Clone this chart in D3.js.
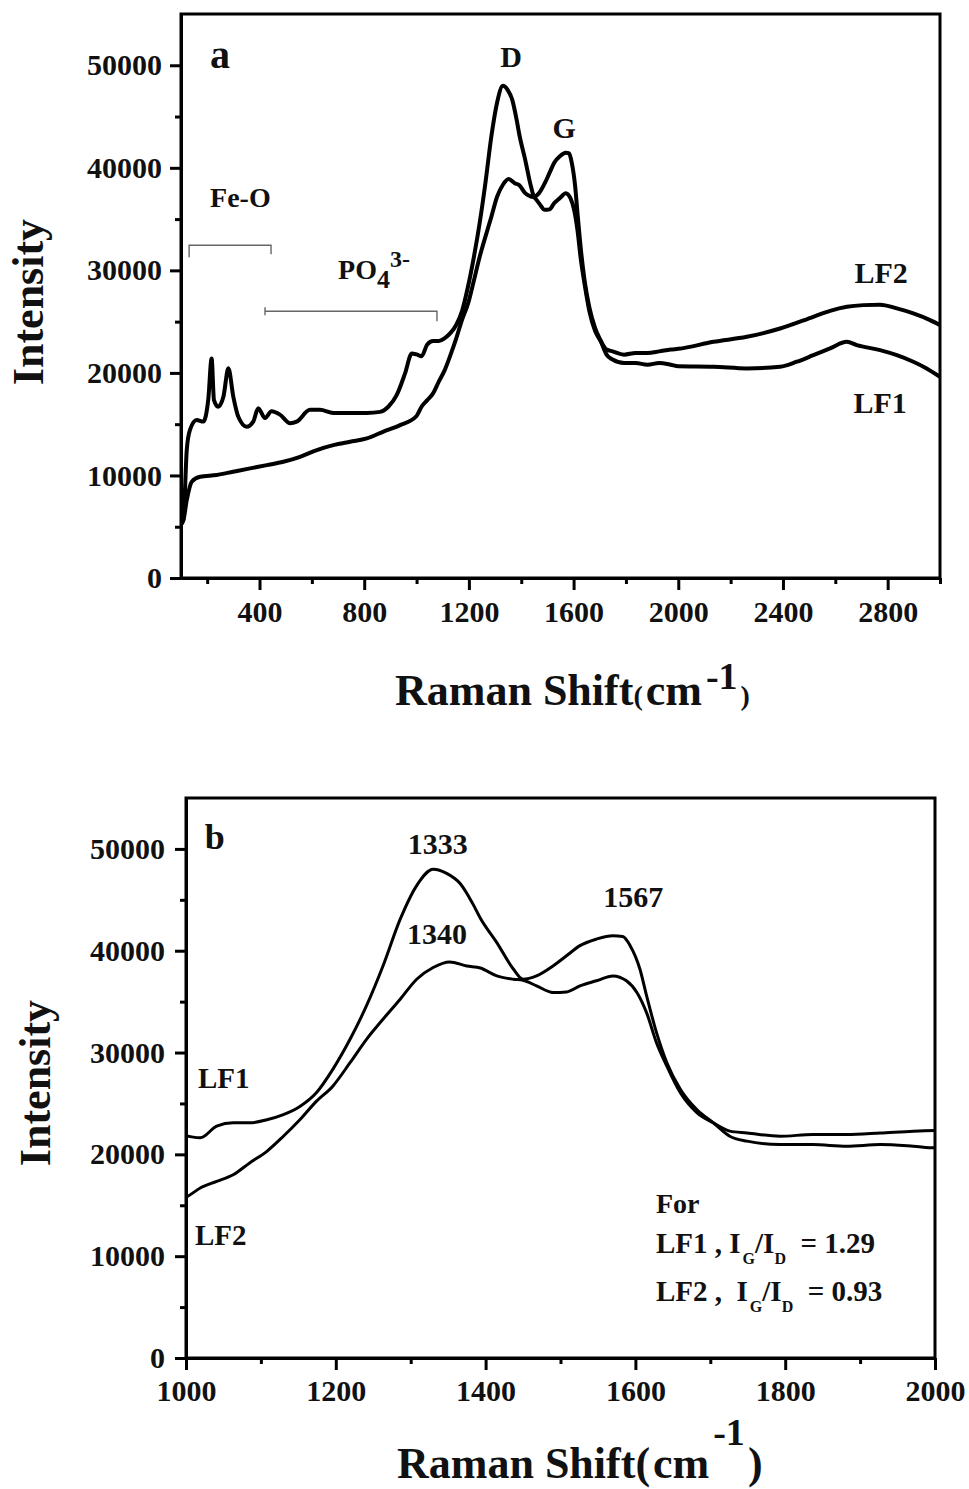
<!DOCTYPE html>
<html lang="en">
<head>
<meta charset="UTF-8">
<title>Raman spectra LF1 / LF2</title>
<script src="https://d3js.org/d3.v7.min.js"></script>
<style>
  body { margin: 0; background: #fff; }
  text { font-family: "Liberation Serif", "Times New Roman", serif; font-weight: bold; fill: #111; }
</style>
</head>
<body>
<svg width="969" height="1489"></svg>
<script>
    // Raman shift (cm-1) and intensity
    const shiftLF1 = [100, 109, 122, 134, 160, 185, 204, 217, 226, 242, 262, 281, 300, 319, 351, 376, 395, 421, 446, 478,
        517, 542, 593, 631, 682, 746, 810, 861, 892, 924, 956, 982, 1000, 1019, 1041, 1063, 1085, 1108, 1130, 1152,
        1174, 1196, 1219, 1241, 1263, 1286, 1308, 1330, 1348, 1366, 1383, 1393, 1415, 1437, 1450, 1468, 1490, 1508, 1526, 1548,
        1570, 1583, 1593, 1606, 1615, 1628, 1642, 1660, 1682, 1704, 1726, 1749, 1793, 1837, 1882, 1927, 1971, 2000, 2134, 2262,
        2389, 2453, 2516, 2580, 2644, 2682, 2771, 2835, 2898, 2949, 3000];
    const intLF1 = [5200, 5650, 12480, 14420, 15400, 15250, 17350, 21400, 17350, 16700, 17670, 20450, 17670, 15720, 14750, 15250, 16550, 15600, 16250, 15930,
        15100, 15250, 16400, 16400, 16100, 16100, 16100, 16200, 16700, 17830, 19950, 21900, 21800, 21620, 22770, 23100, 23100, 23400, 23900, 24700,
        26050, 28350, 31300, 34600, 38500, 43100, 46400, 48000, 47600, 46600, 44600, 43200, 40800, 38200, 37200, 37530, 38500, 39500, 40500, 41140,
        41470, 41400, 40500, 38200, 35560, 32000, 29000, 26400, 24400, 23100, 21780, 21300, 20960, 20960, 20800, 20960, 20800, 20640, 20600, 20440,
        20600, 21090, 21730, 22390, 23030, 22710, 22220, 21730, 21090, 20440, 19620];

    const shiftLF2 = [100, 109, 122, 141, 173, 236, 299, 364, 428, 491, 555, 619, 682, 746, 810, 872, 937, 1000, 1019, 1041,
        1063, 1085, 1108, 1130, 1152, 1174, 1196, 1219, 1241, 1263, 1286, 1308, 1330, 1352, 1375, 1393, 1415, 1437, 1450, 1468,
        1490, 1508, 1526, 1548, 1570, 1588, 1602, 1615, 1628, 1642, 1660, 1682, 1704, 1726, 1749, 1793, 1837, 1882, 1927, 1971,
        2000, 2134, 2262, 2389, 2516, 2580, 2644, 2707, 2771, 2835, 2898, 2962, 3000];
    const intLF2 = [5400, 5650, 7600, 9390, 9870, 10040, 10360, 10690, 11010, 11340, 11820, 12480, 12960, 13290, 13610, 14260, 14910, 15800, 16700, 17350,
        18000, 19160, 20300, 21780, 23400, 25200, 26700, 29000, 31300, 33270, 35240, 37200, 38350, 38900, 38500, 38300, 37530, 37200, 37100, 36550,
        35900, 35950, 36550, 37050, 37530, 37050, 35900, 33900, 31000, 28670, 26050, 24100, 23100, 22280, 22100, 21780, 21950, 21950, 22100, 22280,
        22350, 23030, 23520, 24330, 25470, 26050, 26450, 26610, 26650, 26290, 25800, 25150, 24660];

    const yTicks = [0, 10000, 20000, 30000, 40000, 50000];
    const yMinor = [5000, 15000, 25000, 35000, 45000];
    const xTicksA = [400, 800, 1200, 1600, 2000, 2400, 2800];
    const xMinorA = [200, 600, 1000, 1400, 1800, 2200, 2600, 3000];
    const xTicksB = [1000, 1200, 1400, 1600, 1800, 2000];
    const xMinorB = [1100, 1300, 1500, 1700, 1900];

    const lf1 = shiftLF1.map((s, i) => [s, intLF1[i]]);
    const lf2 = shiftLF2.map((s, i) => [s, intLF2[i]]);

    const svg = d3.select('svg');
    const font = '"Liberation Serif", "Times New Roman", serif';

    function drawPanel(p) {
        const g = svg.append('g');
        const x = d3.scaleLinear().domain(p.xDomain).range([p.left, p.right]);
        const y = d3.scaleLinear().domain([0, 55000]).range([p.bottom, p.top]);

        const clipId = 'clip-' + p.name;
        g.append('clipPath').attr('id', clipId)
            .append('rect')
            .attr('x', p.left).attr('y', p.top)
            .attr('width', p.right - p.left).attr('height', p.bottom - p.top);

        // curves
        const line = d3.line()
            .x(d => x(d[0]))
            .y(d => y(d[1]))
            .curve(d3.curveMonotoneX);
        [lf1, lf2].forEach(series => {
            g.append('path')
                .attr('clip-path', `url(#${clipId})`)
                .attr('d', line(series))
                .style('fill', 'none')
                .style('stroke', '#000')
                .style('stroke-width', p.lineWidth)
                .style('stroke-linejoin', 'round');
        });

        // frame
        g.append('rect')
            .attr('x', p.left).attr('y', p.top)
            .attr('width', p.right - p.left).attr('height', p.bottom - p.top)
            .style('fill', 'none').style('stroke', '#000').style('stroke-width', 3);

        // axes
        const yAxis = g.append('g').attr('transform', `translate(${p.left},0)`)
            .call(d3.axisLeft(y).tickValues(yTicks).tickSize(11).tickSizeOuter(0).tickPadding(p.yPad).tickFormat(d3.format('d')));
        const yAxisMinor = g.append('g').attr('transform', `translate(${p.left},0)`)
            .call(d3.axisLeft(y).tickValues(yMinor).tickSize(6).tickSizeOuter(0).tickFormat(''));
        const xAxis = g.append('g').attr('transform', `translate(0,${p.bottom})`)
            .call(d3.axisBottom(x).tickValues(p.xTicks).tickSize(12).tickSizeOuter(0).tickPadding(p.xPad).tickFormat(d3.format('d')));
        const xAxisMinor = g.append('g').attr('transform', `translate(0,${p.bottom})`)
            .call(d3.axisBottom(x).tickValues(p.xMinor).tickSize(6).tickSizeOuter(0).tickFormat(''));

        [yAxis, yAxisMinor, xAxis, xAxisMinor].forEach(a => {
            a.select('.domain').style('stroke', '#000').style('stroke-width', 3);
            a.selectAll('.tick line').style('stroke', '#000').style('stroke-width', 3);
            a.selectAll('.tick text')
                .attr('font-family', font)
                .attr('font-size', 30)
                .attr('font-weight', 'bold')
                .style('fill', '#111');
        });

        // axis titles
        svg.append('text')
            .attr('transform', `translate(${p.yTitleX},${p.yTitleY}) rotate(-90)`)
            .attr('text-anchor', 'middle')
            .attr('font-size', 44)
            .text('Intensity');

        const xt = svg.append('text')
            .attr('x', p.xTitleX).attr('y', p.xTitleY)
            .attr('font-size', 44);
        xt.append('tspan').text('Raman Shift');
        xt.append('tspan').attr('font-size', p.parenSize).text('(');
        xt.append('tspan').attr('dx', 3).text('cm');
        xt.append('tspan').attr('font-size', 38).attr('dx', 4).attr('dy', p.supDy).text('-1');
        xt.append('tspan').attr('font-size', p.parenSize).attr('dy', -p.supDy).attr('dx', 3).text(')');

        return {g, x, y};
    }

    // ---------- panel a ----------
    const a = drawPanel({
        name: 'a', xDomain: [100, 3000],
        left: 181, right: 940, top: 14, bottom: 578,
        xTicks: xTicksA, xMinor: xMinorA, yPad: 8, xPad: 11, lineWidth: 4,
        yTitleX: 43, yTitleY: 302, xTitleX: 395, xTitleY: 705, parenSize: 28, supDy: -16
    });

    const labelsA = [
        {t: 'a', s: 211, v: 49700, size: 40, anchor: 'start'},
        {t: 'Fe-O', s: 211, v: 36160, size: 28, anchor: 'start'},
        {t: 'D', s: 1361, v: 49830, size: 30, anchor: 'middle'},
        {t: 'G', s: 1564, v: 42880, size: 30, anchor: 'middle'},
        {t: 'LF2', s: 2775, v: 28780, size: 30, anchor: 'middle'},
        {t: 'LF1', s: 2771, v: 16050, size: 30, anchor: 'middle'}
    ];
    labelsA.forEach(l => {
        a.g.append('text')
            .attr('x', a.x(l.s)).attr('y', a.y(l.v))
            .attr('text-anchor', l.anchor)
            .attr('font-size', l.size)
            .text(l.t);
    });

    const po = a.g.append('text')
        .attr('x', a.x(700)).attr('y', a.y(29140))
        .attr('font-size', 28);
    po.append('tspan').text('PO');
    po.append('tspan').attr('font-size', 26).attr('dy', 9).text('4');
    po.append('tspan').attr('font-size', 24).attr('dy', -21).text('3-');

    // band brackets (Fe-O, PO4)
    const brackets = [
        {s0: 131, s1: 444, v: 32450, left: 12, right: 9},
        {s0: 421, s1: 1078, v: 26020, left: 0, right: 10}
    ];
    brackets.forEach(b => {
        const x0 = a.x(b.s0), x1 = a.x(b.s1), yy = a.y(b.v);
        const path = d3.path();
        path.moveTo(x0, yy + b.left);
        path.lineTo(x0, yy);
        path.lineTo(x1, yy);
        path.lineTo(x1, yy + b.right);
        if (b.left === 0) {
            path.moveTo(x0, yy - 4);
            path.lineTo(x0, yy + 4);
        }
        a.g.append('path')
            .attr('d', path.toString())
            .style('fill', 'none')
            .style('stroke', '#666')
            .style('stroke-width', 1.4);
    });

    // ---------- panel b ----------
    const b = drawPanel({
        name: 'b', xDomain: [1000, 2000],
        left: 186, right: 935, top: 798, bottom: 1358,
        xTicks: xTicksB, xMinor: xMinorB, yPad: 10, xPad: 10, lineWidth: 3,
        yTitleX: 50, yTitleY: 1083, xTitleX: 397, xTitleY: 1478, parenSize: 44, supDy: -33
    });

    const labelsB = [
        {t: 'b', s: 1025, v: 50000, size: 36, anchor: 'start'},
        {t: '1333', s: 1336, v: 49500, size: 30, anchor: 'middle'},
        {t: '1340', s: 1335, v: 40650, size: 30, anchor: 'middle'},
        {t: '1567', s: 1597, v: 44300, size: 30, anchor: 'middle'},
        {t: 'LF1', s: 1016, v: 26480, size: 29, anchor: 'start'},
        {t: 'LF2', s: 1012, v: 11120, size: 29, anchor: 'start'},
        {t: 'For', s: 1627.5, v: 14270, size: 28, anchor: 'start'}
    ];
    labelsB.forEach(l => {
        b.g.append('text')
            .attr('x', b.x(l.s)).attr('y', b.y(l.v))
            .attr('text-anchor', l.anchor)
            .attr('font-size', l.size)
            .text(l.t);
    });

    const ratios = [
        {name: 'LF1 , I', ratio: '1.29', v: 10330},
        {name: 'LF2 ,  I', ratio: '0.93', v: 5640}
    ];
    ratios.forEach(r => {
        const t = b.g.append('text')
            .attr('x', b.x(1627.5)).attr('y', b.y(r.v))
            .attr('font-size', 29)
            .attr('xml:space', 'preserve');
        t.append('tspan').text(r.name);
        t.append('tspan').attr('font-size', 16).attr('dy', 11).attr('dx', 2).text('G');
        t.append('tspan').attr('dy', -11).text('/I');
        t.append('tspan').attr('font-size', 16).attr('dy', 11).text('D');
        t.append('tspan').attr('dy', -11).text('  = ' + r.ratio);
    });
</script>
</body>
</html>
